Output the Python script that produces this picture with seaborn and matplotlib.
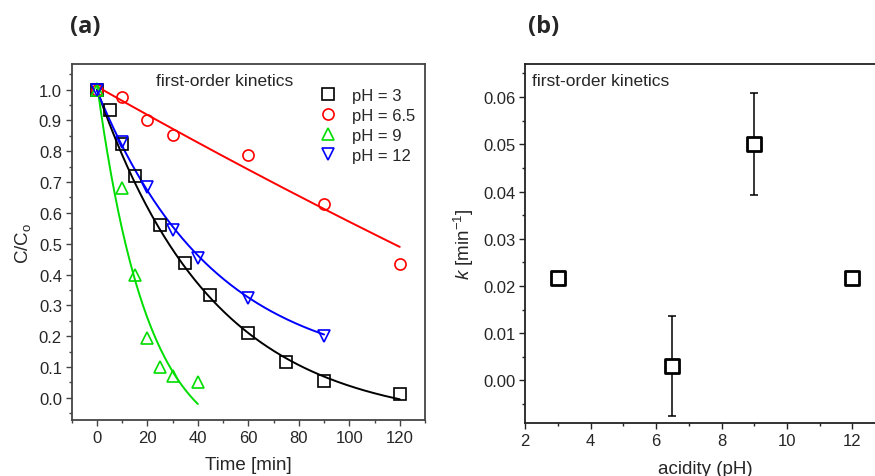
import numpy as np
import pandas as pd
import matplotlib
matplotlib.use("Agg")
import matplotlib.pyplot as plt
from matplotlib.ticker import MultipleLocator, FormatStrFormatter
import seaborn as sns

# ---- panel (a): normalised concentration vs time ----
t_ph3 = [0, 5, 10, 15, 25, 35, 45, 60, 75, 90, 120]
c_ph3 = [1.0, 0.935, 0.825, 0.72, 0.56, 0.437, 0.332, 0.21, 0.115, 0.056, 0.012]
t_ph65 = [0, 10, 20, 30, 60, 90, 120]
c_ph65 = [1.0, 0.977, 0.90, 0.853, 0.787, 0.63, 0.435]
t_ph9 = [0, 10, 15, 20, 25, 30, 40]
c_ph9 = [1.0, 0.68, 0.40, 0.195, 0.10, 0.07, 0.05]
t_ph12 = [0, 10, 20, 30, 40, 60, 90]
c_ph12 = [1.0, 0.83, 0.685, 0.545, 0.455, 0.325, 0.20]

series_labels = ["pH = 3", "pH = 6.5", "pH = 9", "pH = 12"]
series_colors = ["black", "#ff0000", "#00dd00", "#0000ff"]
series_markers = ["s", "o", "^", "v"]

# first-order fit curves: C/Co = c0 + A*exp(-k t), drawn up to t_end
fit_k = [0.0217, 0.0012, 0.050, 0.0217]
fit_A = [1.085, 3.88, 1.203, 0.923]
fit_c0 = [-0.085, -2.87, -0.183, 0.0745]
fit_tend = [120, 120, 40, 90]

# ---- panel (b): rate constants vs pH ----
ph_values = [3, 6.5, 9, 12]
k_values = [0.0217, 0.0031, 0.0500, 0.0217]
k_errors = [0.0, 0.0106, 0.0108, 0.0]

sns.set_theme(style="ticks")
plt.rcParams["font.family"] = ["Liberation Sans", "DejaVu Sans"]
plt.rcParams["mathtext.fontset"] = "custom"
plt.rcParams["mathtext.rm"] = "Liberation Sans"
plt.rcParams["mathtext.it"] = "Liberation Sans:italic"

fig = plt.figure(figsize=(8.75, 4.77), dpi=100)
ax1 = fig.add_axes([0.0819, 0.1174, 0.4038, 0.7463])
ax2 = fig.add_axes([0.6003, 0.1111, 0.4113, 0.7526])

frames = []
for lab, tt, cc in zip(series_labels, [t_ph3, t_ph65, t_ph9, t_ph12],
                       [c_ph3, c_ph65, c_ph9, c_ph12]):
    frames.append(pd.DataFrame({"t": tt, "c": cc, "series": lab}))
df = pd.concat(frames, ignore_index=True)

fit_frames = []
for lab, k, A, c0, te in zip(series_labels, fit_k, fit_A, fit_c0, fit_tend):
    tt = np.linspace(0, te, 200)
    fit_frames.append(pd.DataFrame({"t": tt, "c": c0 + A * np.exp(-k * tt), "series": lab}))
fit_df = pd.concat(fit_frames, ignore_index=True)

palette = dict(zip(series_labels, series_colors))
marker_map = dict(zip(series_labels, series_markers))

sns.lineplot(data=fit_df, x="t", y="c", hue="series", palette=palette,
             hue_order=series_labels, ax=ax1, legend=False, linewidth=1.4,
             sort=False, estimator=None)

for lab in series_labels:
    sub = df[df["series"] == lab]
    ax1.plot(sub["t"], sub["c"], linestyle="none", marker=marker_map[lab],
             markersize=8, markerfacecolor="none", markeredgecolor=palette[lab],
             markeredgewidth=1.2, label=lab)

ax1.set_xlim(-10, 130)
ax1.set_ylim(-0.072, 1.083)
ax1.set_xticks(np.arange(0, 121, 20))
ax1.xaxis.set_minor_locator(MultipleLocator(10))
ax1.set_yticks(np.round(np.arange(0, 1.01, 0.1), 1))
ax1.yaxis.set_minor_locator(MultipleLocator(0.05))
ax1.yaxis.set_major_formatter(FormatStrFormatter("%.1f"))
ax1.set_xlabel("Time [min]", fontsize=13.5, labelpad=8)
ax1.set_ylabel("C/C$_\\mathregular{o}$", fontsize=13.5, labelpad=4)
ax1.text(0.24, 0.955, "first-order kinetics", transform=ax1.transAxes,
         fontsize=12.5, va="center", ha="left")
ax1.legend(loc="upper right", bbox_to_anchor=(1.005, 0.965), frameon=False,
           fontsize=12, handletextpad=0.8, labelspacing=0.3,
           handlelength=1.3, borderaxespad=0.3)

# panel (b)
kdf = pd.DataFrame({"pH": ph_values, "k": k_values})
ax2.errorbar(ph_values, k_values, yerr=k_errors, fmt="none", ecolor="black",
             elinewidth=1.1, capsize=3, capthick=1.1, zorder=2)
sns.scatterplot(data=kdf, x="pH", y="k", marker="s", s=100, facecolor="white",
                edgecolor="black", linewidth=2.0, ax=ax2, zorder=3)
ax2.set_xlim(2, 13)
ax2.set_ylim(-0.009, 0.067)
ax2.set_xticks(np.arange(2, 13, 2))
ax2.xaxis.set_minor_locator(MultipleLocator(1))
ax2.set_yticks(np.round(np.arange(0, 0.061, 0.01), 2))
ax2.yaxis.set_minor_locator(MultipleLocator(0.005))
ax2.yaxis.set_major_formatter(FormatStrFormatter("%.2f"))
ax2.set_xlabel("acidity (pH)", fontsize=13.5, labelpad=9)
ax2.set_ylabel("$\\mathit{k}$ [min$^{\\mathregular{-1}}$]", fontsize=13.5, labelpad=5)
ax2.text(0.02, 0.955, "first-order kinetics", transform=ax2.transAxes,
         fontsize=12.5, va="center", ha="left")

for ax, col in ((ax1, "#444444"), (ax2, "#222222")):
    for side in ("top", "right", "left", "bottom"):
        ax.spines[side].set_visible(True)
        ax.spines[side].set_linewidth(1.3)
        ax.spines[side].set_color(col)
    ax.tick_params(which="major", direction="out", length=4.5, width=1.0,
                   labelsize=12, color=col, pad=2.5)
    ax.tick_params(which="minor", direction="out", length=2.5, width=1.0,
                   color=col)
    ax.tick_params(top=False, right=False, which="both")

fig.text(0.097, 0.943, "(a)", fontsize=17, fontweight="bold", ha="center",
         va="center", family=["Open Sans", "DejaVu Sans"])
fig.text(0.621, 0.943, "(b)", fontsize=17, fontweight="bold", ha="center",
         va="center", family=["Open Sans", "DejaVu Sans"])

fig.savefig("out.png", dpi=100)
